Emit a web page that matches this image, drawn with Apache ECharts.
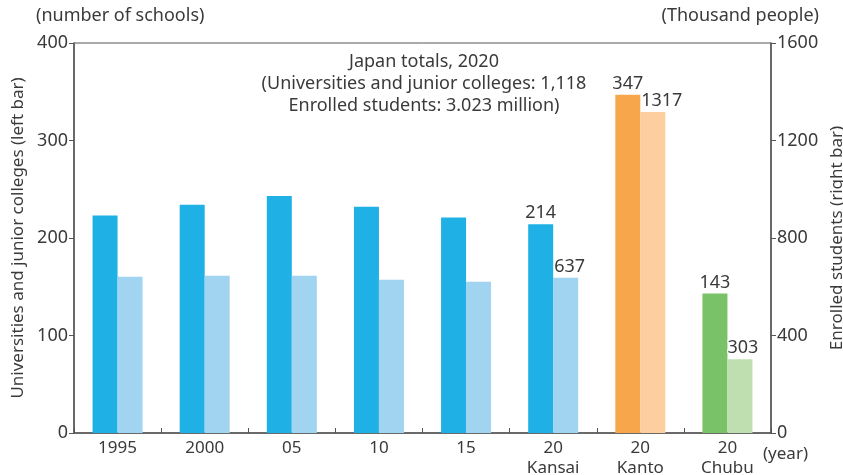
<!DOCTYPE html>
<html>
<head>
<meta charset="utf-8">
<script src="https://cdn.jsdelivr.net/npm/echarts@6/dist/echarts.min.js"></script>
<style>
  html, body { margin: 0; padding: 0; background: #fff; }
  #chart { width: 843px; height: 475px; }
</style>
</head>
<body>
<div id="chart"></div>
<script>
// categories (years / regions)
const categories = ['1995', '2000', '05', '10', '15', '20\nKansai', '20\nKanto', '20\nChubu'];
// universities and junior colleges (left axis, number of schools)
const schools = [223, 234, 243, 232, 221, 214, 347, 143];
// enrolled students (right axis, thousand people)
const students = [641, 645, 645, 629, 621, 637, 1317, 303];
// which bars carry a value label
const labelled = [5, 6, 7];

const leftTicks = { min: 0, max: 400, interval: 100 };
const rightTicks = { min: 0, max: 1600, interval: 400 };

const darkColors = ['#1fb0e5', '#1fb0e5', '#1fb0e5', '#1fb0e5', '#1fb0e5', '#1fb0e5', '#f7a64b', '#79c267'];
const lightColors = ['#a1d4f1', '#a1d4f1', '#a1d4f1', '#a1d4f1', '#a1d4f1', '#a1d4f1', '#fdcf9f', '#bfdfb1'];

const FONT = '"Noto Sans", sans-serif';
const TXT = '#3a3a3a';
const AXIS = '#555';

const chart = echarts.init(document.getElementById('chart'), null, { renderer: 'canvas' });

const labelOffsets = { 5: [4, 0], 6: [9, 0], 7: [3, 0] };

const darkData = schools.map((v, i) => ({
    value: v,
    itemStyle: { color: darkColors[i] },
    label: { show: labelled.includes(i) }
}));
const lightData = students.map((v, i) => ({
    value: v,
    itemStyle: { color: lightColors[i] },
    label: { show: labelled.includes(i), offset: labelOffsets[i] || [0, 0] }
}));

const labelStyle = {
    position: 'top',
    distance: 2,
    color: TXT,
    fontSize: 18,
    fontFamily: FONT,
    textBorderColor: '#fff',
    textBorderWidth: 2
};

chart.setOption({
    animation: false,
    textStyle: { fontFamily: FONT },
    grid: {
        left: 74,
        right: 72,
        top: 43,
        bottom: 42,
        outerBoundsMode: 'none',
        containLabel: false,
        show: true,
        borderColor: AXIS,
        borderWidth: 1
    },
    xAxis: {
        type: 'category',
        data: categories,
        axisLine: { lineStyle: { color: AXIS, width: 1.5 } },
        axisTick: { show: true, inside: true, length: 5, interval: 0, lineStyle: { color: AXIS } },
        axisLabel: { color: TXT, fontSize: 17, lineHeight: 20, margin: 5, fontFamily: FONT, interval: 0 },
        splitLine: { show: false }
    },
    yAxis: [
        {
            type: 'value',
            ...leftTicks,
            position: 'left',
            name: 'Universities and junior colleges (left bar)',
            nameLocation: 'middle',
            nameGap: 46,
            nameRotate: 90,
            nameTextStyle: { color: TXT, fontSize: 17, fontFamily: FONT },
            axisLine: { show: true, lineStyle: { color: AXIS, width: 1.5 } },
            axisTick: { show: true, length: 5, lineStyle: { color: AXIS } },
            axisLabel: { color: TXT, fontSize: 18, margin: 6, fontFamily: FONT },
            splitLine: { show: false }
        },
        {
            type: 'value',
            ...rightTicks,
            position: 'right',
            name: 'Enrolled students (right bar)',
            nameLocation: 'middle',
            nameGap: 42,
            nameRotate: 90,
            nameTextStyle: { color: TXT, fontSize: 17, fontFamily: FONT },
            axisLine: { show: true, lineStyle: { color: AXIS, width: 1.5 } },
            axisTick: { show: true, length: 5, lineStyle: { color: AXIS } },
            axisLabel: { color: TXT, fontSize: 18, margin: 6, fontFamily: FONT, formatter: v => String(v) },
            splitLine: { show: false }
        }
    ],
    series: [
        {
            name: 'Universities and junior colleges',
            type: 'bar',
            yAxisIndex: 0,
            barWidth: 25,
            barGap: '0%',
            data: darkData,
            label: labelStyle
        },
        {
            name: 'Enrolled students',
            type: 'bar',
            yAxisIndex: 1,
            barWidth: 25,
            barGap: '0%',
            data: lightData,
            label: labelStyle
        }
    ],
    graphic: [
        {
            type: 'text', left: 36, top: 7,
            style: { text: '(number of schools)', fill: TXT, font: '18px ' + FONT }
        },
        {
            type: 'text', right: 24, top: 7,
            style: { text: '(Thousand people)', fill: TXT, font: '18px ' + FONT }
        },
        {
            type: 'text', left: 763, top: 446,
            style: { text: '(year)', fill: TXT, font: '17px ' + FONT }
        },
        {
            type: 'text', x: 424, y: 51,
            style: {
                text: 'Japan totals, 2020\n(Universities and junior colleges: 1,118\nEnrolled students: 3.023 million)',
                fill: TXT,
                font: '18px ' + FONT,
                align: 'center',
                lineHeight: 22
            }
        }
    ]
});

window.addEventListener('resize', () => chart.resize());
</script>
</body>
</html>
